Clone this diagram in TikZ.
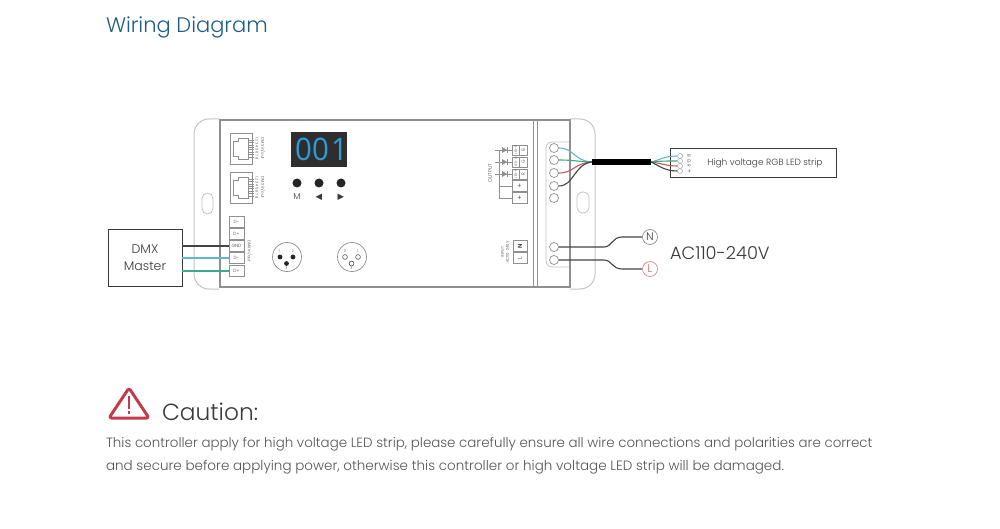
\documentclass[tikz,border=0pt]{standalone}
\usepackage{fontspec}
\setmainfont{Poppins}[UprightFont=* Light]
\newfontfamily\symfont{DejaVu Sans}
\newfontfamily\dispfont{Open Sans}
\usetikzlibrary{calc}
\definecolor{titleblue}{HTML}{1F5F85}
\definecolor{inkc}{HTML}{3A3A3A}
\definecolor{bodyc}{HTML}{555555}
\definecolor{linec}{HTML}{8F8F8F}
\definecolor{flangec}{HTML}{C4C4C4}
\definecolor{wireb}{HTML}{5FB8D0}
\definecolor{wireg}{HTML}{3FA884}
\definecolor{wirer}{HTML}{C25A62}
\definecolor{wirek}{HTML}{444444}
\definecolor{warnred}{HTML}{C23B4B}
\definecolor{segblue}{HTML}{2F9BD8}
\tikzset{
  txt/.style={anchor=base west,inner sep=0pt,outer sep=0pt},
  box/.style={draw=#1,line width=1pt,fill=white,inner sep=0pt},
  term/.style={draw=linec,line width=.6pt,fill=white,minimum width=15pt,minimum height=11pt,inner sep=0pt,font=\fontsize{4.5}{5}\selectfont,text=inkc},
  hole/.style={circle,draw=linec,line width=.7pt,fill=white,minimum size=9pt,inner sep=0pt},
  pad/.style={circle,draw=linec,line width=.4pt,fill=white,minimum size=5pt,inner sep=0pt},
  btn/.style={circle,fill=black!85,minimum size=9pt,inner sep=0pt},
  tiny/.style={inner sep=0pt,text=inkc,font=\fontsize{3.6}{4.2}\selectfont},
  wire/.style={line width=1.1pt},
  blackwire/.style={wire,draw=wirek},
  digit/.style={inner sep=0pt,text=segblue,font=\dispfont\fontsize{31}{31}\selectfont},
}
\begin{document}
\begin{tikzpicture}[x=1pt,y=-1pt]
\path[use as bounding box,fill=white] (0,0) rectangle (1000,529);
% title
\node[txt,text=titleblue,font=\fontsize{21}{24}\selectfont] (title) at (106,33) {Wiring Diagram};
% flanges
\draw[flangec,line width=1pt,rounded corners=15pt] (219,119) -- (194,119) -- (194,289) -- (219,289);
\draw[flangec,line width=1pt,rounded corners=15pt] (570,119) -- (595,119) -- (595,289) -- (570,289);
\draw[flangec,line width=.8pt,rounded corners=5.5pt] (202,193) rectangle (213,214);
\draw[flangec,line width=.8pt,rounded corners=6pt] (577,192) rectangle (589,213);
\draw[flangec,line width=.8pt,rounded corners=6pt] (570,142) -- (546,142) -- (546,267) -- (570,267);
% body
\draw[linec,line width=1.3pt,fill=none] (220,120) rectangle (570,287);
\draw[linec,line width=1pt] (533,120) -- (533,287) (537,120) -- (537,287);
% RJ45 ports
\foreach \n/\y in {a/133,b/172}{
  \draw[linec,line width=.7pt] (230,\y) rectangle (252,\y+31);
  \draw[linec,line width=.7pt] (248,\y+5) -- (238,\y+5) -- (238,\y+8) -- (233,\y+8) -- (233,\y+23) -- (238,\y+23) -- (238,\y+26) -- (248,\y+26) -- cycle;
  \foreach \k in {0,...,7} \draw[linec,line width=.3pt] (248,\y+7+\k*2.4) -- (254,\y+7+\k*2.4);
  \node[tiny,rotate=-90] (num\n) at (257,\y+15.5) {1 2 3 4 5 6 7 8};
  \node[tiny,rotate=-90,font=\fontsize{4}{4.5}\selectfont] (lab\n) at (263,\y+15.5) {DMX in/out};
}
% display
\node[fill=black!82,minimum width=56pt,minimum height=35pt,inner sep=0pt] (disp) at (319,149.5) {};
\node[digit] (d1) at (303.5,149) {\scalebox{.95}[1]{0}};
\node[digit] (d2) at (320.5,149) {\scalebox{.95}[1]{0}};
\node[digit] (d3) at (339.5,149) {\scalebox{.95}[1]{1}};
% buttons
\node[btn] (b1) at (297,183) {};
\node[btn] (b2) at (319,183) {};
\node[btn] (b3) at (341,183) {};
\node[inner sep=0pt,text=inkc,font=\fontsize{8.5}{9}\selectfont] (lm) at (297,197) {M};
\node[inner sep=0pt,text=inkc,font=\symfont\fontsize{8.5}{9}\selectfont] (ll) at (319,197) {◀};
\node[inner sep=0pt,text=inkc,font=\symfont\fontsize{8.5}{9}\selectfont] (lr) at (341,197) {▶};
% DMX terminals
\node[term] (t1) at (236.5,222) {D-};
\node[term] (t2) at (236.5,234) {D+};
\node[term] (t3) at (236.5,246) {GND};
\node[term] (t4) at (236.5,258) {D-};
\node[term] (t5) at (236.5,271) {D+};
\node[tiny,rotate=-90,font=\fontsize{4}{4.5}\selectfont] (dmxlab) at (249.5,251) {DMX in/out};
% XLR
\node[circle,draw=linec,line width=.7pt,minimum size=29pt,inner sep=0pt] (x1) at (287,257) {};
\fill[black!85] (280,257) circle (2.4pt) (293,257) circle (2.4pt) (286.5,263.5) circle (2.4pt);
\node[tiny] at (280,251.5) {1};\node[tiny] at (293,251.5) {2};\node[tiny] at (286.5,268.5) {3};
\node[circle,draw=linec,line width=.7pt,minimum size=29pt,inner sep=0pt] (x2) at (352,257) {};
\draw[inkc,line width=.5pt] (345,257) circle (2.4pt) (358,257) circle (2.4pt) (351.5,263.5) circle (2.4pt);
\node[tiny] at (345,251.5) {2};\node[tiny] at (358,251.5) {1};\node[tiny] at (351.5,268.5) {3};
% DMX master
\node[box=inkc,minimum width=74pt,minimum height=56pt,align=center,text=inkc,font=\fontsize{12.5}{17}\selectfont] (master) at (145,258) {DMX\\Master};
\coordinate (m1) at (182,246);\coordinate (m2) at (182,258);\coordinate (m3) at (182,271);
\draw[blackwire] (m1) -- (t3.west);
\draw[wire,wireb] (m2) -- (t4.west);
\draw[wire,wireg] (m3) -- (t5.west);
% output terminals
\foreach \n/\y/\a/\b in {1/150/LED-B/B,2/162/LED-G/G,3/174/LED-R/R}{
  \node[draw=linec,line width=.6pt,fill=white,minimum width=7.5pt,minimum height=10pt,inner sep=0pt] (oa\n) at (515.75,\y) {};
  \node[draw=linec,line width=.6pt,fill=white,minimum width=7.5pt,minimum height=10pt,inner sep=0pt] (ob\n) at (523.25,\y) {};
  \node[tiny,rotate=90,font=\fontsize{3}{3}\selectfont] at (oa\n) {\a};
  \node[tiny,rotate=90,font=\fontsize{4.5}{5}\selectfont] at (ob\n) {\b};
  \coordinate (ls\n) at (495,\y);
  \draw[linec,line width=.5pt] (ls\n) -- (oa\n.west);
  \fill[linec] (502,\y-3) -- (507,\y) -- (502,\y+3) -- cycle;
  \draw[linec,line width=.5pt] (507,\y-3) -- (507,\y+3);
}
\node[term] (o4) at (519.5,186) {\fontsize{7}{7}\selectfont +};
\node[term] (o5) at (519.5,198) {\fontsize{7}{7}\selectfont +};
\coordinate (busa) at (499,150);\coordinate (busb) at (499,198);
\draw[linec,line width=.6pt] (busa) -- (busb) -- (o5.west);
\draw[linec,line width=.6pt] (499,186) -- (o4.west);
\node[tiny,rotate=90,font=\fontsize{5}{5}\selectfont] (outlab) at (490,173) {OUTPUT};
% input terminals
\node[draw=linec,line width=.6pt,fill=white,minimum width=14pt,minimum height=11pt,inner sep=0pt,text=inkc,font=\bfseries\fontsize{6}{6}\selectfont] (in) at (520,246) {\rotatebox{90}{N}};
\node[draw=linec,line width=.6pt,fill=white,minimum width=14pt,minimum height=11pt,inner sep=0pt,text=inkc,font=\fontsize{6}{6}\selectfont] (il) at (520,258) {\rotatebox{90}{L}};
\node[tiny,rotate=90,align=center,font=\fontsize{3.8}{5}\selectfont] (inlab) at (505,252) {INPUT\\AC110-240V};
% terminal holes
\node[hole] (h1) at (554,148) {};
\node[hole] (h2) at (554,160) {};
\node[hole] (h3) at (554,173) {};
\node[hole] (h4) at (554,186) {};
\node[hole] (h5) at (554,198) {};
\node[hole] (hn) at (554,247) {};
\node[hole] (hl) at (554,260) {};
% cable
\coordinate (ca) at (592,162);\coordinate (cb) at (651,162);
\draw[wire,wireb] (h1.east) .. controls (574,148) and (574,161) .. (ca);
\draw[wire,wireg] (h2.east) .. controls (574,160) and (576,161.5) .. (ca);
\draw[wire,wirer] (h3.east) .. controls (574,173) and (574,163) .. (ca);
\draw[blackwire] (h4.east) .. controls (574,186) and (574,164) .. (ca);
\draw[black,line width=5.5pt] (ca) -- (cb);
% strip
\node[box=inkc,minimum width=166pt,minimum height=29pt] (strip) at (753,163.5) {};
\node[inner sep=0pt,text=inkc,font=\fontsize{9}{10}\selectfont] (striplab) at (765,163.5) {High voltage RGB LED strip};
\node[pad] (p1) at (680,156) {};
\node[pad] (p2) at (680,161) {};
\node[pad] (p3) at (680,166) {};
\node[pad] (p4) at (680,171) {};
\foreach \y/\t in {156/B,161/G,166/R}{\node[tiny,rotate=-90,font=\fontsize{4.5}{5}\selectfont] at (689,\y) {\t};}
\node[tiny,rotate=-90,font=\fontsize{6}{6}\selectfont] at (689,171) {+};
\draw[wire,wireb] (cb) .. controls (660,160) and (664,156) .. (p1.west);
\draw[wire,wireg] (cb) .. controls (660,161) and (666,161) .. (p2.west);
\draw[wire,wirer] (cb) .. controls (660,163) and (666,166) .. (p3.west);
\draw[blackwire] (cb) .. controls (658,165) and (664,171) .. (p4.west);
% mains
\node[circle,draw=linec,line width=.7pt,fill=white,minimum size=15pt,inner sep=0pt,text=inkc,font=\fontsize{11}{11}\selectfont] (N) at (650,237) {N};
\node[circle,draw=wirer!70,line width=.7pt,fill=white,minimum size=15pt,inner sep=0pt,text=wirer,font=\fontsize{11}{11}\selectfont] (L) at (650,269) {L};
\draw[blackwire] (hn.east) -- (604,247) .. controls (612,247) and (612,237) .. (622,237) -- (N.west);
\draw[blackwire] (hl.east) -- (604,260) .. controls (612,260) and (612,269) .. (622,269) -- (L.west);
\node[txt,text=inkc,font=\fontsize{17.8}{20}\selectfont] (ac) at (670,259.5) {AC110-240V};
% caution
\draw[warnred,line width=3pt,line join=round,rounded corners=2.5pt] (129,388) -- (149,418) -- (109,418) -- cycle;
\fill[warnred] (127.8,396) rectangle (130.2,409);
\fill[warnred] (127.8,411) rectangle (130.2,414);
\node[txt,text=inkc,font=\fontsize{23.3}{26}\selectfont] (caution) at (162,420) {Caution:};
\node[txt,text=bodyc,font=\fontsize{13.4}{16}\selectfont] (l1) at (106,447) {This controller apply for high voltage LED strip, please carefully ensure all wire connections and polarities are correct};
\node[txt,text=bodyc,font=\fontsize{13.5}{16}\selectfont] (l2) at (106,470) {and secure before applying power, otherwise this controller or high voltage LED strip will be damaged.};
\end{tikzpicture}
\end{document}
